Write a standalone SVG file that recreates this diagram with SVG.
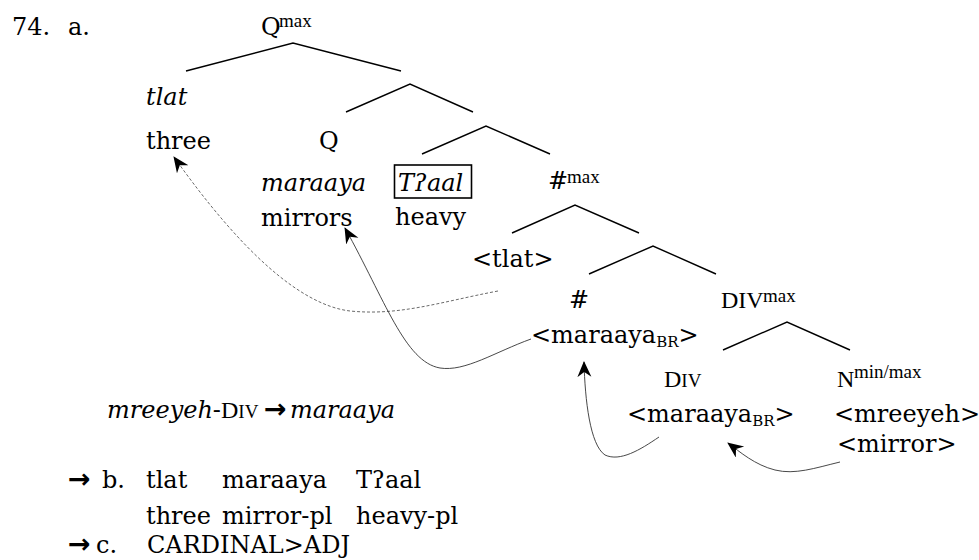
<svg xmlns="http://www.w3.org/2000/svg" width="979" height="560" viewBox="0 0 979 560">
  <style>
    text { font-family: "DejaVu Serif", "Liberation Serif", serif; font-size: 24px; fill: #000; }
    .it { font-style: italic; }
    .sup { font-family: "Liberation Serif", serif; font-size: 19px; }
    .tms { font-family: "Liberation Serif", serif; font-size: 24px; }
    .sc { font-family: "Liberation Serif", serif; font-size: 19px; }
    .sub { font-family: "DejaVu Serif", serif; font-size: 15px; }
    .arr { font-family: "DejaVu Sans", sans-serif; font-weight: bold; font-size: 27px; }
    .branch { fill: none; stroke: #000; stroke-width: 1.4; }
    .move { fill: none; stroke: #333; stroke-width: 0.9; }
    .trace { fill: none; stroke: #444; stroke-width: 0.8; stroke-dasharray: 3 2; }
  </style>
  <defs>
    <marker id="head" markerUnits="userSpaceOnUse" markerWidth="18" markerHeight="16" refX="15" refY="7" orient="auto">
      <path d="M0,0 L16,7 L0,14 L5,7 z" fill="#000"/>
    </marker>
  </defs>

  <!-- example number -->
  <g id="ex-num">
    <text x="12" y="35">74.</text>
    <text x="68" y="35">a.</text>
  </g>

  <!-- tree branches and movement arrows -->
  <g id="connectors">
    <polyline class="branch" points="186,71 293,43 401,71"/>
    <polyline class="branch" points="346,112 410,84 473,112"/>
    <polyline class="branch" points="422,154 486,126 550,154"/>
    <polyline class="branch" points="512,233 575,205 639,233"/>
    <polyline class="branch" points="589,274 653,246 716,274"/>
    <polyline class="branch" points="723,350 787,322 850,350"/>

    <path class="trace" d="M498,291 C440,302 400,316 350,311 C300,305 240,250 174,157" marker-end="url(#head)"/>
    <path class="move" d="M531,339 C495,352 465,372 440,368 C405,362 385,300 345,228" marker-end="url(#head)"/>
    <path class="move" d="M659,437 C640,450 620,462 605,455 C590,445 585,400 584,362" marker-end="url(#head)"/>
    <path class="move" d="M840,462 C815,468 795,475 775,470 C755,465 740,452 728,443" marker-end="url(#head)"/>
  </g>

  <g id="qmax">
    <text x="261" y="35">Q</text>
    <text class="sup" x="279" y="27">max</text>
  </g>

  <g id="tlat">
    <text class="it" x="146" y="105">tlat</text>
    <text x="146" y="149">three</text>
  </g>

  <g id="q">
    <text x="319" y="149">Q</text>
  </g>

  <g id="maraaya">
    <text class="it" x="261" y="191">maraaya</text>
    <text x="261" y="226">mirrors</text>
  </g>

  <g id="taal">
    <rect x="394.5" y="165" width="77" height="33" fill="none" stroke="#000" stroke-width="1.6"/>
    <text class="it" x="398" y="191">Tʔaal</text>
    <text x="395" y="225">heavy</text>
  </g>

  <g id="num-max">
    <text x="548" y="189">#</text>
    <text class="sup" x="567" y="183">max</text>
  </g>

  <g id="tlat-copy">
    <text x="472" y="267">&lt;tlat&gt;</text>
  </g>

  <g id="num">
    <text x="569" y="308">#</text>
    <text x="531" y="343">&lt;maraaya<tspan class="sub" dy="4">BR</tspan><tspan dy="-4">&gt;</tspan></text>
  </g>

  <g id="div-max">
    <text class="tms" x="721" y="308">DIV</text>
    <text class="sup" x="763" y="302">max</text>
  </g>

  <g id="div">
    <text class="tms" x="664" y="387">D<tspan class="sc">IV</tspan></text>
    <text x="627" y="422">&lt;maraaya<tspan class="sub" dy="4">BR</tspan><tspan dy="-4">&gt;</tspan></text>
  </g>

  <g id="n-min-max">
    <text class="tms" x="837" y="387">N</text>
    <text class="sup" x="854" y="378">min/max</text>
    <text x="834" y="422" font-size="21">&lt;mreeyeh&gt;</text>
    <text x="837" y="452">&lt;mirror&gt;</text>
  </g>

  <g id="rule">
    <text x="107" y="418"><tspan class="it">mreeyeh</tspan>-<tspan class="tms">D</tspan><tspan class="sc">IV</tspan></text>
    <text class="arr" x="264" y="418">→</text>
    <text class="it" x="290" y="418">maraaya</text>
  </g>

  <g id="ex-b">
    <text class="arr" x="68" y="488">→</text>
    <text x="102" y="488">b.</text>
    <text x="146" y="488">tlat</text>
    <text x="222" y="488">maraaya</text>
    <text x="356" y="488">Tʔaal</text>
    <text x="146" y="524">three</text>
    <text x="222" y="524">mirror-pl</text>
    <text x="356" y="524">heavy-pl</text>
  </g>

  <g id="ex-c">
    <text class="arr" x="68" y="553">→</text>
    <text x="96" y="553">c.</text>
    <text x="147" y="553">CARDINAL&gt;ADJ</text>
  </g>
</svg>
